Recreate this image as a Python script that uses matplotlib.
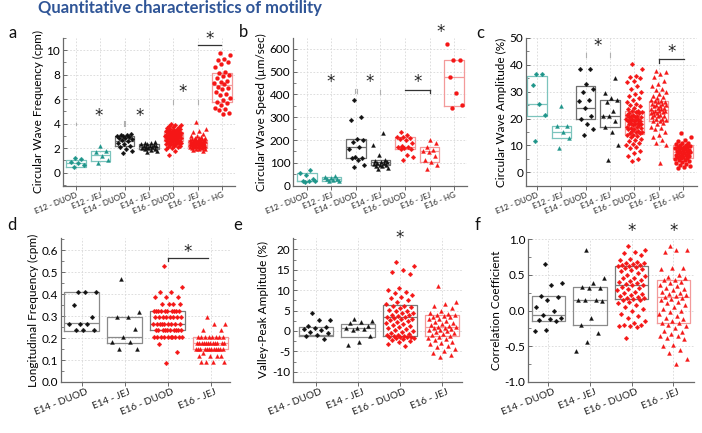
import matplotlib
matplotlib.use('Agg')
import matplotlib.pyplot as plt
from matplotlib.ticker import MultipleLocator, FormatStrFormatter
import matplotlib.transforms as mtransforms

plt.rcParams['font.family'] = ['Lato', 'DejaVu Sans']
plt.rcParams['axes.unicode_minus'] = False

W, H = 702, 433
fig = plt.figure(figsize=(W / 100, H / 100), dpi=100)

# ---------------- categories ----------------
cats_top = ['E12 - DUOD', 'E12 - JEJ', 'E14 - DUOD', 'E14 - JEJ', 'E16 - DUOD', 'E16 - JEJ', 'E16 - HG']
cats_bot = ['E14 - DUOD', 'E14 - JEJ', 'E16 - DUOD', 'E16 - JEJ']

# ---------------- panel a: circular wave frequency (cpm) ----------------
a_e12_duod = [0.43, 0.62, 0.76, 0.9, 1.09, 1.17]
a_e12_jej = [0.76, 1.03, 1.36, 1.71, 1.79, 2.17]
a_e14_duod = [1.6, 1.75, 1.9, 2.1, 2.2, 2.3, 2.45, 2.6, 2.7, 2.75, 2.8, 2.85, 2.9, 2.95, 3.0, 3.05, 3.1, 3.15]
a_e14_jej = [1.65, 1.8, 1.85, 1.9, 1.95, 2.0, 2.0, 2.05, 2.1, 2.15, 2.2, 2.2, 2.25, 2.3, 2.35, 2.4, 2.45, 2.5]
a_e16_duod = [3.97, 3.9, 3.85, 3.8, 3.75, 3.7, 3.65, 3.6, 3.6, 3.55, 3.5, 3.5, 3.45, 3.4, 3.4, 3.35, 3.35,
              3.3, 3.3, 3.3, 3.25, 3.25, 3.2, 3.2, 3.2, 3.15, 3.15, 3.1, 3.1, 3.1, 3.05, 3.05, 3.0, 3.0,
              3.0, 2.95, 2.95, 2.9, 2.9, 2.9, 2.85, 2.85, 2.8, 2.8, 2.75, 2.75, 2.7, 2.7, 2.65, 2.65, 2.6,
              2.6, 2.55, 2.55, 2.5, 2.5, 2.45, 2.45, 2.4, 2.4, 2.35, 2.3, 2.3, 2.25, 2.2, 2.15, 2.1, 2.05,
              2.0, 1.9, 1.8, 1.45]
a_e16_jej = [4.1, 3.6, 3.4, 3.3, 3.15, 3.0, 2.95, 2.9, 2.85, 2.8, 2.8, 2.75, 2.75, 2.7, 2.7, 2.65, 2.65,
             2.65, 2.6, 2.6, 2.6, 2.55, 2.55, 2.55, 2.5, 2.5, 2.5, 2.45, 2.45, 2.45, 2.4, 2.4, 2.4, 2.4,
             2.35, 2.35, 2.35, 2.3, 2.3, 2.3, 2.25, 2.25, 2.25, 2.2, 2.2, 2.2, 2.15, 2.15, 2.1, 2.1, 2.1,
             2.05, 2.05, 2.0, 2.0, 1.95, 1.95, 1.9, 1.85, 1.8]
a_e16_hg = [9.8, 9.6, 9.3, 9.2, 9.0, 8.9, 8.6, 8.2, 8.1, 8.0, 7.9, 7.7, 7.5, 7.4, 7.3, 7.2, 7.0, 6.9, 6.8,
            6.6, 6.4, 6.3, 6.1, 5.9, 5.8, 5.7, 5.5, 5.3, 5.2, 5.1, 4.9, 4.8]
a_q1 = [0.49, 0.95, 2.2, 1.9, 2.55, 2.1, 5.8]
a_med = [0.75, 1.4, 2.55, 2.1, 2.95, 2.4, 7.15]
a_q3 = [1.03, 1.75, 2.95, 2.34, 3.35, 2.65, 8.1]

# ---------------- panel b: circular wave speed (um/sec) ----------------
b_e12_duod = [15, 18, 18, 22, 29, 47, 57, 69]
b_e12_jej = [20, 22, 24, 27, 30, 33, 37, 40]
b_e14_duod = [80, 90, 113, 120, 123, 127, 160, 170, 190, 200, 205, 290, 303, 376]
b_e14_jej = [72, 78, 85, 88, 90, 92, 95, 98, 100, 102, 105, 108, 112, 135, 178, 230]
b_e16_duod = [112, 125, 132, 160, 162, 165, 168, 170, 175, 185, 200, 205, 210, 212, 215, 222, 234]
b_e16_jej = [73, 90, 105, 112, 128, 148, 152, 158, 170, 188, 200]
b_e16_hg = [342, 354, 405, 478, 550, 552, 620]
b_q1 = [18, 20, 123, 91, 161, 105, 351]
b_med = [20, 28, 168, 102, 170, 152, 478]
b_q3 = [54, 38, 205, 113, 213, 171, 552]

# ---------------- panel c: circular wave amplitude (%) ----------------
c_e12_duod = [11.8, 21.3, 25.6, 32.5, 36.5, 36.5]
c_e12_jej = [8.9, 12.9, 14.9, 17.2, 17.2, 24.7]
c_e14_duod = [14, 16, 18, 20, 21, 24, 26.5, 27, 30, 31, 33, 38.5, 38.5]
c_e14_jej = [4.6, 10.2, 15, 17, 19, 21, 21, 23, 26, 27, 27.5, 29.5, 35]
c_e16_duod = [40.2, 38.5, 36, 35.5, 35, 34, 33.5, 32, 31, 30, 29, 28.5, 27.5, 27, 26, 25.5, 25, 24.5, 24,
              23.5, 23, 23, 22.5, 22.5, 22, 22, 21.5, 21.5, 21, 21, 20.5, 20.5, 20.5, 20, 20, 20, 19.5,
              19.5, 19, 19, 19, 18.5, 18.5, 18, 18, 18, 17.5, 17.5, 17, 17, 16.5, 16.5, 16, 16, 15.5,
              15.5, 15, 15, 14.5, 14.5, 14, 14, 13.5, 13, 12.5, 12, 11.5, 11, 10.5, 10, 9.5, 9, 8, 7, 6,
              5, 4.2]
c_e16_jej = [37.8, 37.5, 36.5, 35.5, 34, 33, 32, 31, 30.5, 30, 29, 28.5, 28, 27.5, 27, 26.5, 26.5, 26, 26,
             25.5, 25.5, 25, 25, 24.5, 24.5, 24, 24, 23.5, 23.5, 23, 23, 23, 22.5, 22.5, 22, 22, 21.5,
             21.5, 21, 21, 20.5, 20, 20, 19.5, 19, 19, 18.5, 18, 17, 16.5, 16, 15, 14, 13, 12, 11, 10, 3.5]
c_e16_hg = [14.8, 13, 12.2, 11.5, 11, 10.8, 10.5, 10.2, 10, 9.8, 9.6, 9.5, 9.3, 9.1, 9, 8.8, 8.6, 8.4,
            8.2, 8, 7.8, 7.6, 7.5, 7.3, 7.1, 7, 6.8, 6.6, 6.4, 6.2, 6, 5.8, 5.6, 5.4, 5.2, 5, 4.7, 4.4,
            4.1, 3.8, 3.5, 3.2, 2.8, 2.4, 2, 1.6]
c_q1 = [21, 12.6, 19.8, 17, 14.2, 19.2, 5.2]
c_med = [25.6, 14.9, 23.8, 21, 19, 23.2, 7.7]
c_q3 = [36, 17.3, 32.2, 27.1, 22.8, 26.6, 10.2]

# ---------------- panel d: longitudinal frequency (cpm) ----------------
d_e14_duod = [0.41, 0.41, 0.41, 0.35, 0.295, 0.265, 0.265, 0.265, 0.235, 0.235, 0.235]
d_e14_jej = [0.47, 0.32, 0.295, 0.295, 0.24, 0.205, 0.18, 0.18, 0.15, 0.15]
d_e16_duod = [0.53, 0.435, 0.41, 0.41, 0.385, 0.385, 0.385, 0.355, 0.355, 0.355, 0.355,
              0.325, 0.325, 0.325, 0.325, 0.325, 0.325, 0.325, 0.325, 0.325, 0.325,
              0.295, 0.295, 0.295, 0.295, 0.295, 0.295, 0.295, 0.295,
              0.265, 0.265, 0.265, 0.265, 0.265, 0.265, 0.265, 0.265, 0.265,
              0.235, 0.235, 0.235, 0.235, 0.235, 0.235, 0.235, 0.235, 0.235, 0.235,
              0.205, 0.205, 0.205, 0.205, 0.205, 0.205, 0.205, 0.205, 0.205, 0.205,
              0.175, 0.135, 0.088]
d_e16_jej = [0.295, 0.265, 0.265, 0.235, 0.235,
             0.205, 0.205, 0.205, 0.205, 0.205, 0.205, 0.205, 0.205,
             0.178, 0.178, 0.178, 0.178, 0.178, 0.178, 0.178, 0.178, 0.178, 0.178, 0.178, 0.178,
             0.149, 0.149, 0.149, 0.149, 0.149, 0.149, 0.149, 0.149, 0.149, 0.149, 0.149, 0.149,
             0.13, 0.12, 0.12, 0.12, 0.12, 0.093, 0.093, 0.093, 0.093]
d_q1 = [0.234, 0.176, 0.237, 0.15]
d_med = [0.267, 0.205, 0.265, 0.176]
d_q3 = [0.41, 0.297, 0.325, 0.206]

# ---------------- panel e: valley-peak amplitude (%) ----------------
e_e14_duod = [4.5, 2.7, 2.6, 1.3, 1.0, 0.6, 0.5, 0.2, -0.2, -0.6, -1.0, -1.2, -1.9]
e_e14_jej = [2.9, 2.5, 2.2, 2.0, 1.1, 0.8, 0.6, 0.5, 0.3, -1.2, -2.6, -3.4]
e_e16_duod = [17, 16, 15, 14.5, 14, 10.5, 10, 9.5, 9.2, 8.8, 8.4, 8, 7.5, 7, 6.5, 6.2, 6, 5.8, 5.5, 5.2,
              5, 4.8, 4.5, 4.3, 4, 3.8, 3.6, 3.5, 3.4, 3.2, 3, 2.8, 2.6, 2.4, 2.2, 2, 1.8, 1.5, 1.2, 1,
              0.8, 0.5, 0.2, 0, -0.3, -0.5, -0.8, -1, -1.1, -1.2, -1.3, -1.4, -1.5, -1.5, -1.6, -1.7,
              -1.8, -2, -2.2, -2.5, -2.8, -3.2, -3.8]
e_e16_jej = [11, 7, 6.5, 6, 5.5, 5, 4.5, 4.2, 4, 3.8, 3.6, 3.5, 3.3, 3, 2.8, 2.5, 2.3, 2, 1.8, 1.5, 1.3,
             1, 0.9, 0.8, 0.6, 0.5, 0.3, 0.2, 0, -0.2, -0.5, -0.8, -1, -1.2, -1.5, -1.8, -2, -2.3, -2.6,
             -3, -3.3, -3.6, -4, -4.5, -5, -5.5, -6, -6.5]
e_q1 = [-1.2, -1.6, -1.2, -1.2]
e_med = [-0.9, 0.65, 3.5, 0.9]
e_q3 = [0.9, 1.8, 6.4, 3.9]

# ---------------- panel f: correlation coefficient ----------------
f_e14_duod = [0.65, 0.39, 0.35, 0.20, 0.19, 0.15, 0.05, -0.01, -0.06, -0.1, -0.12, -0.13, -0.15, -0.27, -0.29]
f_e14_jej = [0.84, 0.45, 0.38, 0.33, 0.32, 0.32, 0.15, 0.14, 0.14, 0.13, -0.11, -0.2, -0.31, -0.44, -0.56]
f_e16_duod = [0.9, 0.85, 0.82, 0.8, 0.78, 0.72, 0.7, 0.68, 0.67, 0.66, 0.65, 0.64, 0.63, 0.62, 0.62, 0.61,
              0.6, 0.58, 0.56, 0.55, 0.52, 0.5, 0.48, 0.46, 0.45, 0.43, 0.41, 0.4, 0.38, 0.37, 0.36, 0.35,
              0.33, 0.31, 0.3, 0.28, 0.26, 0.25, 0.23, 0.21, 0.2, 0.19, 0.18, 0.17, 0.16, 0.15, 0.14,
              0.12, 0.1, 0.08, 0.05, 0.02, 0.0, -0.05, -0.08, -0.1, -0.15, -0.18, -0.2, -0.2, -0.21,
              -0.22, -0.23, -0.38]
f_e16_jej = [0.9, 0.85, 0.84, 0.82, 0.6, 0.6, 0.58, 0.5, 0.47, 0.45, 0.43, 0.42, 0.4, 0.38, 0.36, 0.34,
             0.32, 0.3, 0.28, 0.26, 0.25, 0.23, 0.21, 0.2, 0.19, 0.18, 0.16, 0.14, 0.12, 0.1, 0.08, 0.05,
             0.02, 0.0, -0.02, -0.05, -0.08, -0.1, -0.12, -0.15, -0.17, -0.18, -0.2, -0.22, -0.25, -0.28,
             -0.3, -0.33, -0.35, -0.36, -0.38, -0.4, -0.48, -0.5, -0.55, -0.6, -0.68, -0.75]
f_q1 = [-0.14, -0.2, 0.16, -0.175]
f_med = [-0.06, 0.15, 0.36, 0.185]
f_q3 = [0.2, 0.325, 0.62, 0.42]

# ---------------- styles ----------------
TEAL = '#1e958a'
RED = '#f51616'
BLK = '#111111'
BOX_TEAL = '#7cc4bd'
BOX_GRAY = '#6f6f6f'
BOX_RED = '#f39a9a'
GRID = '#d8d8d8'
SPINE = '#6a6a6a'


def add_axes(l, t, r, b):
    return fig.add_axes([l / W, 1 - b / H, (r - l) / W, (b - t) / H])


def jitter(n, half):
    return [((i * 0.6180339887 + 0.37) % 1.0 - 0.5) * 2 * half for i in range(n)]


def draw_panel(ax, groups, q1, med, q3, boxcols, cats, half, bw):
    pos = list(range(1, len(groups) + 1))
    stats = [dict(med=m, q1=a, q3=b, whislo=a, whishi=b, fliers=[]) for a, m, b in zip(q1, med, q3)]
    res = ax.bxp(stats, positions=pos, widths=bw, showcaps=False, showfliers=False,
                 manage_ticks=False, patch_artist=False)
    for i, c in enumerate(boxcols):
        res['boxes'][i].set_color(c)
        res['boxes'][i].set_linewidth(0.9)
        res['medians'][i].set_color(c)
        res['medians'][i].set_linewidth(0.9)
        res['whiskers'][2 * i].set_visible(False)
        res['whiskers'][2 * i + 1].set_visible(False)
    for p, (vals, mk, col, ms) in zip(pos, groups):
        xs = [p + d for d in jitter(len(vals), half)]
        ax.plot(xs, vals, ls='none', marker=mk, color=col, ms=ms, mec=col, mew=0.2, zorder=3)
    ax.set_xticks(pos)
    ax.set_xticklabels(cats)
    for s in ['top', 'right']:
        ax.spines[s].set_visible(False)
    for s in ['left', 'bottom']:
        ax.spines[s].set_color(SPINE)
        ax.spines[s].set_linewidth(0.9)
    ax.grid(True, which='major', color=GRID, ls=(0, (2, 2)), lw=0.6)
    ax.set_axisbelow(True)
    ax.tick_params(axis='y', which='major', direction='in', length=3, width=0.7, color=SPINE,
                   labelsize=8.5, pad=2)
    ax.tick_params(axis='y', which='minor', direction='in', length=2, width=0.6, color=SPINE)
    ax.tick_params(axis='x', which='major', direction='out', length=3, width=0.7, color=SPINE, pad=1)


def rot_labels(ax, size, dx_px):
    off = mtransforms.ScaledTranslation(dx_px / 100, 0, fig.dpi_scale_trans)
    for lab in ax.get_xticklabels():
        lab.set_rotation(22)
        lab.set_ha('right')
        lab.set_va('top')
        lab.set_rotation_mode('anchor')
        lab.set_fontsize(size)
        lab.set_color('#222222')
        lab.set_transform(lab.get_transform() + off)


def star(ax, x, y, size=12):
    ax.text(x, y, '*', ha='center', va='center', fontsize=size, color='#222222', clip_on=False,
            family='DejaVu Sans')


def faint(ax, x, y0, y1):
    ax.plot([x, x], [y0, y1], color='#b0b0b0', lw=0.8, clip_on=False)


def bracket(ax, x0, x1, y, tick_at=(), dy=0.0):
    ax.plot([x0, x1], [y, y], color='#333333', lw=0.9, clip_on=False)
    for xt in tick_at:
        ax.plot([xt, xt], [y, y - dy], color='#333333', lw=0.9, clip_on=False)


top_style = [('D', TEAL, 2.4), ('^', TEAL, 2.9), ('D', BLK, 2.4), ('^', BLK, 2.9),
             ('D', RED, 2.4), ('^', RED, 2.9), ('o', RED, 2.9)]
top_box = [BOX_TEAL, BOX_TEAL, BOX_GRAY, BOX_GRAY, BOX_RED, BOX_RED, BOX_RED]
bot_style = [('D', BLK, 2.4), ('^', BLK, 2.9), ('D', RED, 2.4), ('^', RED, 2.9)]
bot_box = ['#8a8a8a', '#8a8a8a', '#7a7a7a', BOX_RED]

# ---------- a ----------
ax = add_axes(63, 38, 235, 186)
grp = [a_e12_duod, a_e12_jej, a_e14_duod, a_e14_jej, a_e16_duod, a_e16_jej, a_e16_hg]
draw_panel(ax, [(g,) + s for g, s in zip(grp, top_style)], a_q1, a_med, a_q3, top_box, cats_top, 0.33, 0.8)
ax.set_xlim(0.47, 7.53)
ax.set_ylim(-1.1, 11.0)
ax.set_yticks([0, 2, 4, 6, 8, 10])
ax.yaxis.set_minor_locator(MultipleLocator(1))
ax.set_ylabel('Circular Wave Frequency (cpm)', fontsize=8.5, labelpad=2)
rot_labels(ax, 5.8, 0)
star(ax, 1.93, 4.6)
star(ax, 3.6, 4.6)
star(ax, 5.4, 6.6)
star(ax, 6.5, 10.9)
bracket(ax, 6.0, 6.96, 10.4)
faint(ax, 1, 3.85, 4.05)
faint(ax, 2.97, 3.8, 4.2)
faint(ax, 3.03, 3.8, 4.2)
faint(ax, 5, 5.6, 5.95)
faint(ax, 6, 5.6, 5.95)

# ---------- b ----------
ax = add_axes(293, 38, 467, 186)
grp = [b_e12_duod, b_e12_jej, b_e14_duod, b_e14_jej, b_e16_duod, b_e16_jej, b_e16_hg]
draw_panel(ax, [(g,) + s for g, s in zip(grp, top_style)], b_q1, b_med, b_q3, top_box, cats_top, 0.33, 0.8)
ax.set_xlim(0.43, 7.53)
ax.set_ylim(-2, 648)
ax.set_yticks([0, 100, 200, 300, 400, 500, 600])
ax.yaxis.set_minor_locator(MultipleLocator(50))
ax.set_ylabel('Circular Wave Speed (\u00b5m/sec)', fontsize=8.5, labelpad=2)
rot_labels(ax, 5.8, 0)
star(ax, 1.98, 455)
star(ax, 3.54, 455)
star(ax, 5.52, 455)
star(ax, 6.47, 675)
bracket(ax, 5.0, 6.0, 420, tick_at=(6.0,), dy=15)
faint(ax, 2.97, 405, 425)
faint(ax, 3.03, 405, 425)
faint(ax, 4.0, 400, 420)

# ---------- c ----------
ax = add_axes(526, 38, 697, 186)
grp = [c_e12_duod, c_e12_jej, c_e14_duod, c_e14_jej, c_e16_duod, c_e16_jej, c_e16_hg]
draw_panel(ax, [(g,) + s for g, s in zip(grp, top_style)], c_q1, c_med, c_q3, top_box, cats_top, 0.33, 0.8)
ax.set_xlim(0.55, 7.58)
ax.set_ylim(-5.1, 50)
ax.set_yticks([0, 10, 20, 30, 40, 50])
ax.yaxis.set_minor_locator(MultipleLocator(5))
ax.set_ylabel('Circular Wave Amplitude (%)', fontsize=8.5, labelpad=2)
rot_labels(ax, 5.8, 0)
star(ax, 3.49, 47.0)
star(ax, 6.54, 44.8)
bracket(ax, 6.03, 7.05, 42.1, tick_at=(6.03,), dy=1.3)
faint(ax, 3.0, 42.8, 44.3)
faint(ax, 4.0, 42.8, 44.3)

# ---------- d ----------
ax = add_axes(61, 238, 230, 382)
grp = [d_e14_duod, d_e14_jej, d_e16_duod, d_e16_jej]
draw_panel(ax, [(g,) + s for g, s in zip(grp, bot_style)], d_q1, d_med, d_q3, bot_box, cats_bot, 0.34, 0.8)
ax.set_xlim(0.52, 4.45)
ax.set_ylim(0, 0.656)
ax.set_yticks([0.0, 0.1, 0.2, 0.3, 0.4, 0.5, 0.6])
ax.yaxis.set_major_formatter(FormatStrFormatter('%.1f'))
ax.yaxis.set_minor_locator(MultipleLocator(0.05))
ax.set_ylabel('Longitudinal Frequency (cpm)', fontsize=8.5, labelpad=2)
rot_labels(ax, 7.2, 4)
star(ax, 3.47, 0.59)
bracket(ax, 3.0, 3.94, 0.567, tick_at=(3.0,), dy=0.018)

# ---------- e ----------
ax = add_axes(293, 238, 462, 382)
grp = [e_e14_duod, e_e14_jej, e_e16_duod, e_e16_jej]
draw_panel(ax, [(g,) + s for g, s in zip(grp, bot_style)], e_q1, e_med, e_q3, bot_box, cats_bot, 0.34, 0.8)
ax.set_xlim(0.46, 4.47)
ax.set_ylim(-12.52, 22.77)
ax.set_yticks([-10, -5, 0, 5, 10, 15, 20])
ax.yaxis.set_minor_locator(MultipleLocator(2.5))
ax.set_ylabel('Valley-Peak Amplitude (%)', fontsize=8.5, labelpad=2)
rot_labels(ax, 7.2, 4)
star(ax, 3.0, 22.8)

# ---------- f ----------
ax = add_axes(528, 239, 694, 382)
grp = [f_e14_duod, f_e14_jej, f_e16_duod, f_e16_jej]
draw_panel(ax, [(g,) + s for g, s in zip(grp, bot_style)], f_q1, f_med, f_q3, bot_box, cats_bot, 0.34, 0.8)
ax.set_xlim(0.51, 4.5)
ax.set_ylim(-1.0, 1.0)
ax.set_yticks([-1.0, -0.5, 0.0, 0.5, 1.0])
ax.yaxis.set_major_formatter(FormatStrFormatter('%.1f'))
ax.yaxis.set_minor_locator(MultipleLocator(0.25))
ax.set_ylabel('Correlation Coefficient', fontsize=8.5, labelpad=2)
rot_labels(ax, 7.2, 4)
star(ax, 3.0, 1.11)
star(ax, 4.0, 1.11)

# ---------- panel letters & title ----------
for letter, (x, y) in zip('abcdef', [(13, 33), (243, 32), (480, 33), (12, 225), (238, 225), (478, 225)]):
    fig.text(x / W, 1 - y / H, letter, fontsize=12, ha='center', va='center', color='#111111')

fig.text(38 / W, 1 - 12.5 / H, 'Quantitative characteristics of motility', fontsize=12,
         fontweight='bold', color='#2f5597', ha='left', va='baseline')

fig.savefig('out.png', dpi=100)
